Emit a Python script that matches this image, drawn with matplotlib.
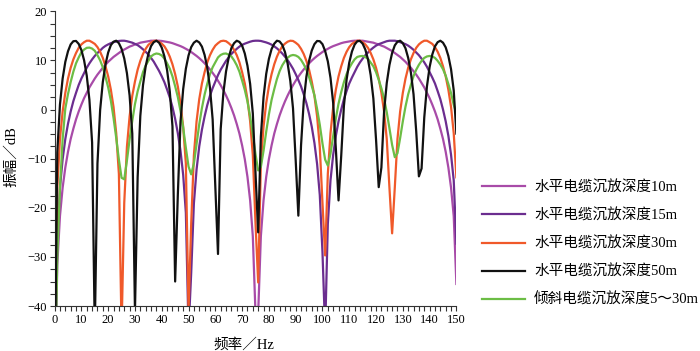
import numpy as np
import matplotlib
matplotlib.use("Agg")
from matplotlib import pyplot as plt
from matplotlib.ticker import MultipleLocator

plt.rcParams['font.family'] = ['Liberation Serif', 'Noto Sans CJK SC']
plt.rcParams['axes.unicode_minus'] = True

# frequency axis (Hz), one sample per Hz
freq = np.arange(0, 151)

# amplitude (dB), one value per Hz from 0 to 150
depth10 = [
    -60, -31.6, -21.7, -15.9, -11.8, -8.6, -6.0, -3.9, -2.0, -0.4,
    1.0, 2.3, 3.4, 4.5, 5.4, 6.3, 7.1, 7.8, 8.5, 9.1,
    9.7, 10.2, 10.7, 11.1, 11.5, 11.9, 12.2, 12.5, 12.8, 13.0,
    13.25, 13.4, 13.6, 13.7, 13.8, 13.9, 14.0, 14.0, 14.0, 14.0,
    13.95, 13.85, 13.75, 13.65, 13.5, 13.3, 13.1, 12.9, 12.65, 12.35,
    12.05, 11.7, 11.3, 10.9, 10.45, 9.95, 9.4, 8.8, 8.15, 7.45,
    6.7, 5.85, 4.95, 3.95, 2.85, 1.65, 0.3, -1.2, -2.95, -4.9,
    -7.3, -10.1, -13.7, -18.5, -25.8, -41.5, -41.5, -25.8, -18.5, -13.7,
    -10.1, -7.3, -4.9, -2.95, -1.2, 0.3, 1.65, 2.85, 3.95, 4.95,
    5.85, 6.7, 7.45, 8.15, 8.8, 9.4, 9.95, 10.45, 10.9, 11.3,
    11.7, 12.05, 12.35, 12.65, 12.9, 13.1, 13.3, 13.5, 13.65, 13.75,
    13.85, 13.95, 14.0, 14.0, 14.0, 14.0, 13.9, 13.8, 13.7, 13.6,
    13.4, 13.25, 13.0, 12.8, 12.5, 12.2, 11.9, 11.5, 11.1, 10.7,
    10.2, 9.7, 9.1, 8.5, 7.8, 7.1, 6.3, 5.4, 4.5, 3.4,
    2.3, 1.0, -0.4, -2.0, -3.9, -6.0, -8.6, -11.8, -15.9, -21.7,
    -35.5]

depth15 = [
    -60, -25.8, -15.9, -10.1, -6.0, -2.9, -0.4, 1.7, 3.4, 5.0,
    6.3, 7.4, 8.5, 9.4, 10.2, 10.9, 11.5, 12.0, 12.55, 12.95,
    13.25, 13.5, 13.7, 13.85, 13.95, 14.0, 14.0, 13.9, 13.75, 13.6,
    13.35, 13.1, 12.7, 12.25, 11.75, 11.2, 10.5, 9.75, 8.8, 7.85,
    6.75, 5.55, 4.05, 2.45, 0.5, -1.9, -4.8, -8.4, -13.3, -21.0,
    -45, -33.2, -19.1, -12.2, -7.5, -4.1, -1.4, 0.9, 2.8, 4.35,
    5.7, 7.0, 8.1, 9.0, 9.9, 10.6, 11.3, 11.85, 12.35, 12.8,
    13.15, 13.4, 13.6, 13.8, 13.95, 14.0, 14.0, 13.95, 13.8, 13.65,
    13.45, 13.2, 12.85, 12.45, 11.95, 11.4, 10.75, 10.05, 9.2, 8.3,
    7.2, 6.0, 4.7, 3.1, 1.3, -0.9, -3.5, -6.8, -11.1, -17.4,
    -29.0, -45, -23.3, -14.4, -9.2, -5.35, -2.4, 0.0, 2.1, 3.75,
    5.3, 6.5, 7.6, 8.7, 9.6, 10.35, 11.05, 11.6, 12.15, 12.6,
    13.0, 13.3, 13.5, 13.7, 13.9, 14.0, 14.0, 14.0, 13.9, 13.7,
    13.5, 13.3, 13.0, 12.6, 12.15, 11.6, 11.05, 10.35, 9.6, 8.7,
    7.6, 6.5, 5.3, 3.75, 2.1, 0.0, -2.4, -5.35, -9.2, -14.4,
    -27.3]

depth30 = [
    -60, -15.9, -6.0, -0.4, 3.4, 6.3, 8.5, 10.2, 11.5, 12.55,
    13.25, 13.7, 14.0, 14.0, 13.7, 13.35, 12.7, 11.75, 10.5, 8.8,
    6.75, 4.05, 0.5, -4.8, -13.1, -45, -19.0, -7.6, -1.4, 2.8,
    5.7, 8.1, 9.9, 11.3, 12.35, 13.15, 13.6, 13.95, 14.0, 13.8,
    13.4, 12.85, 11.95, 10.75, 9.2, 7.2, 4.7, 1.3, -3.5, -11.0,
    -41, -23.1, -9.3, -2.4, 2.1, 5.3, 7.6, 9.6, 11.05, 12.15,
    13.0, 13.5, 13.9, 14.0, 13.9, 13.5, 13.0, 12.15, 11.05, 9.6,
    7.6, 5.3, 2.1, -2.4, -9.3, -23.1, -35.2, -11.0, -3.5, 1.3,
    4.7, 7.2, 9.2, 10.75, 11.95, 12.85, 13.4, 13.8, 14.0, 13.95,
    13.6, 13.15, 12.35, 11.3, 9.9, 8.1, 5.7, 2.8, -1.4, -7.6,
    -19.0, -29.7, -13.1, -4.8, 0.5, 4.05, 6.75, 8.8, 10.5, 11.75,
    12.7, 13.35, 13.7, 14.0, 14.0, 13.7, 13.25, 12.55, 11.5, 10.2,
    8.5, 6.3, 3.4, -0.4, -6.0, -15.9, -25.2, -15.9, -6.0, -0.4,
    3.4, 6.3, 8.5, 10.2, 11.5, 12.55, 13.25, 13.7, 14.0, 14.0,
    13.7, 13.35, 12.7, 11.75, 10.5, 8.8, 6.75, 4.05, 0.5, -4.8,
    -13.8]

depth50 = [
    -60, -8.7, 1.0, 6.3, 9.7, 11.85, 13.25, 13.9, 13.95, 13.35,
    12.1, 10.05, 6.9, 1.95, -6.7, -45, -11.0, -0.1, 5.6, 9.2,
    11.6, 13.1, 13.8, 14.0, 13.5, 12.35, 10.4, 7.4, 2.85, -4.9,
    -41, -13.8, -1.3, 4.95, 8.8, 11.3, 12.9, 13.7, 14.0, 13.6,
    12.6, 10.8, 8.0, 3.7, -3.4, -35, -17.4, -2.5, 4.15, 8.3,
    11.0, 12.7, 13.6, 14.0, 13.65, 12.8, 11.1, 8.5, 4.45, -2.0,
    -15.8, -29.4, -4.0, 3.35, 7.75, 10.6, 12.5, 13.5, 14.0, 13.75,
    13.0, 11.4, 8.9, 5.2, -0.8, -12.7, -25, -5.5, 2.55, 7.25,
    10.3, 12.3, 13.4, 14.0, 13.85, 13.15, 11.7, 9.35, 5.8, 0.25,
    -10.3, -21.6, -7.3, 1.65, 6.7, 9.9, 12.0, 13.3, 13.95, 13.9,
    13.3, 11.9, 9.8, 6.45, 1.3, -8.0, -18.5, -9.4, 0.7, 6.05,
    9.55, 11.8, 13.2, 13.9, 13.95, 13.4, 12.2, 10.2, 7.0, 2.25,
    -6.1, -15.8, -11.8, -0.4, 5.4, 9.05, 11.5, 13.05, 13.8, 14.0,
    13.5, 12.45, 10.5, 7.55, 3.1, -4.45, -13.6, -12.0, -1.65, 4.7,
    8.65, 11.2, 12.85, 13.7, 14.0, 13.6, 12.65, 10.9, 8.2, 3.9,
    -4.9]

tilted = [
    -60, -30, -16, -6, 0.2, 3.15, 5.6, 7.7, 9.4, 10.6,
    11.65, 12.2, 12.55, 12.6, 12.4, 11.95, 11.05, 10.0, 8.6, 6.65,
    4.5, 1.8, -1.7, -5.75, -10.2, -13.9, -14.2, -10.4, -6.1, -2.3,
    1.1, 3.7, 5.7, 7.6, 8.95, 9.9, 10.8, 11.2, 11.4, 11.3,
    11.0, 10.35, 9.4, 8.3, 6.75, 4.75, 2.55, -0.3, -3.7, -7.8,
    -11.6, -13.2, -11.0, -7.05, -3.0, 0.3, 3.05, 5.25, 7.2, 8.6,
    9.6, 10.6, 11.1, 11.35, 11.4, 11.15, 10.8, 10.0, 9.0, 7.7,
    5.9, 4.0, 1.65, -1.45, -5.1, -9.1, -12.4, -11.7, -8.4, -4.5,
    -1.0, 1.95, 4.15, 6.2, 7.8, 9.0, 9.85, 10.55, 10.95, 11.1,
    11.0, 10.7, 10.1, 9.2, 8.1, 6.6, 4.8, 2.9, 0.1, -3.1,
    -6.9, -10.2, -11.4, -9.0, -5.4, -1.8, 1.2, 3.55, 5.55, 7.2,
    8.45, 9.4, 10.2, 10.7, 10.85, 10.9, 10.7, 10.3, 9.55, 8.8,
    7.6, 6.05, 4.3, 2.25, -0.55, -3.8, -7.2, -9.7, -8.9, -5.8,
    -2.4, 0.6, 3.1, 5.0, 6.8, 8.1, 9.1, 9.9, 10.5, 10.8,
    10.9, 10.8, 10.5, 9.9, 9.15, 8.2, 6.9, 5.2, 3.35, 0.95,
    -0.8]

labels = ['水平电缆沉放深度10m', '水平电缆沉放深度15m', '水平电缆沉放深度30m',
          '水平电缆沉放深度50m', '倾斜电缆沉放深度5～30m']
colors = ['#a84ba8', '#6b2d8f', '#f0592a', '#111111', '#6cbd45']
series = [depth10, depth15, depth30, depth50, tilted]

fig = plt.figure(figsize=(7, 3.51), dpi=100)
ax = fig.add_axes([0.078, 0.128, 0.574, 0.840])

zorders = [2, 2, 2, 4, 3]
for y, c, lab, z in zip(series, colors, labels, zorders):
    ax.plot(freq, y, color=c, lw=1.6, label=lab, zorder=z)

ax.set_xlim(0, 150)
ax.set_ylim(-40, 20)
ax.xaxis.set_major_locator(MultipleLocator(10))
ax.xaxis.set_minor_locator(MultipleLocator(2))
ax.yaxis.set_major_locator(MultipleLocator(10))
ax.yaxis.set_minor_locator(MultipleLocator(2.5))
ax.tick_params(which='both', direction='out', length=3.5, width=0.8,
               labelsize=9, pad=2, color='#333333')
ax.spines['top'].set_visible(False)
ax.spines['right'].set_visible(False)
for s in ('left', 'bottom'):
    ax.spines[s].set_linewidth(0.8)
    ax.spines[s].set_color('#333333')

fig.text(0.349, -0.002, '频率／Hz', ha='center', va='bottom', fontsize=10.5)
fig.text(0.016, 0.553, '振幅／dB', ha='center', va='center', rotation=90,
         fontsize=10.5)

fig.legend(loc='upper left', bbox_to_anchor=(0.688, 0.486), frameon=False,
           fontsize=10.5, handlelength=3.0, handletextpad=0.6,
           labelspacing=0.96, borderpad=0, borderaxespad=0)

fig.savefig('out.png', dpi=100)
